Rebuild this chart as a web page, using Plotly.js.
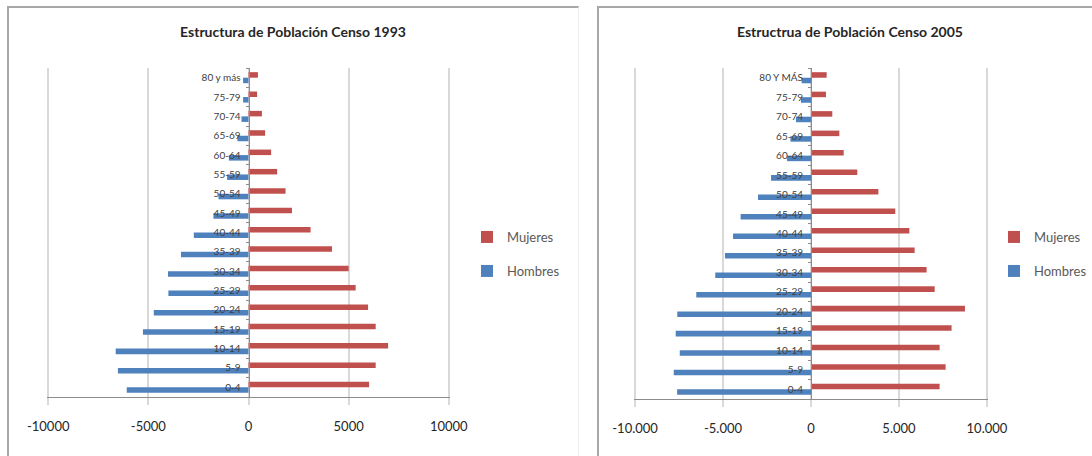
<!DOCTYPE html>
<html>
<head>
<meta charset="utf-8">
<script src="https://cdn.plot.ly/plotly-3.0.1.min.js"></script>
<style>
  html, body { margin: 0; padding: 0; background: #ffffff; width: 1092px; height: 456px; overflow: hidden; }
  .frame { position: absolute; box-sizing: border-box; }
  #frameA { left: 7px; top: 6px; width: 572px; height: 470px; border-left: 2px solid #a8a8a8; border-top: 2px solid #a8a8a8; border-right: 1px solid #efefef; }
  #frameB { left: 597px; top: 6px; width: 520px; height: 470px; border-left: 2px solid #a8a8a8; border-top: 2px solid #a8a8a8; }
  .chart { position: absolute; top: 0; height: 456px; }
  #chartA { left: 0; width: 580px; }
  #chartB { left: 590px; width: 502px; }
</style>
</head>
<body>
<div class="frame" id="frameA"></div>
<div class="frame" id="frameB"></div>
<div class="chart" id="chartA"></div>
<div class="chart" id="chartB"></div>
<script>
// ---------- Data: Censo 1993 (bottom to top) ----------
var categories1993 = ['0-4','5-9','10-14','15-19','20-24','25-29','30-34','35-39','40-44','45-49','50-54','55-59','60-64','65-69','70-74','75-79','80 y más'];
var mujeres1993 = [6020, 6350, 6970, 6350, 5970, 5350, 5000, 4170, 3100, 2170, 1850, 1430, 1130, 830, 670, 430, 470];
var hombres1993 = [-6080, -6520, -6630, -5270, -4730, -4000, -4020, -3370, -2730, -1750, -1500, -1070, -980, -550, -350, -270, -270];

// ---------- Data: Censo 2005 (bottom to top) ----------
var categories2005 = ['0-4','5-9','10-14','15-19','20-24','25-29','30-34','35-39','40-44','45-49','50-54','55-59','60-64','65-69','70-74','75-79','80 Y MÁS'];
var mujeres2005 = [7310, 7650, 7310, 7990, 8750, 7030, 6570, 5890, 5590, 4790, 3830, 2630, 1860, 1610, 1210, 850, 890];
var hombres2005 = [-7610, -7800, -7460, -7690, -7600, -6520, -5440, -4890, -4430, -4000, -3010, -2270, -1360, -1170, -850, -570, -530];

// ---------- Tick labels ----------
var xTickVals = [-10000, -5000, 0, 5000, 10000];
var xTickText1993 = ['-10000', '-5000', '0', '5000', '10000'];
var xTickText2005 = ['-10.000', '-5.000', '0', '5.000', '10.000'];

var title1993 = 'Estructura de Población Censo 1993';
var title2005 = 'Estructrua de Población Censo 2005';
var seriesNames = ['Hombres', 'Mujeres'];

var FONT = 'Lato, "Open Sans", "DejaVu Sans", sans-serif';
var BLUE = '#4f81bd', RED = '#c0504d';

function buildTraces(cats, hom, muj) {
  return [
    { type: 'bar', orientation: 'h', name: seriesNames[0], y: cats, x: hom,
      marker: { color: BLUE }, legend: 'legend2', hoverinfo: 'skip' },
    { type: 'bar', orientation: 'h', name: seriesNames[1], y: cats, x: muj,
      marker: { color: RED }, legend: 'legend', hoverinfo: 'skip' }
  ];
}

function buildLayout(o) {
  return {
    width: o.width, height: 456,
    margin: { l: o.l, r: o.r, t: 68, b: o.b, pad: 0, autoexpand: false },
    paper_bgcolor: 'rgba(0,0,0,0)',
    plot_bgcolor: 'rgba(0,0,0,0)',
    font: { family: FONT, color: '#404040' },
    title: { text: o.title, x: o.titleX, xanchor: 'center', y: 1 - 32 / 456, yanchor: 'middle',
             font: { family: FONT, size: 14, color: '#262626', weight: 'bold' } },
    barmode: 'group', bargap: 0.43, bargroupgap: 0,
    showlegend: true,
    legend: { x: o.legX, xanchor: 'left', y: o.legY1, yanchor: 'middle',
              font: { family: FONT, size: 13, color: '#595959' }, bgcolor: 'rgba(0,0,0,0)' },
    legend2: { x: o.legX, xanchor: 'left', y: o.legY2, yanchor: 'middle',
               font: { family: FONT, size: 13, color: '#595959' }, bgcolor: 'rgba(0,0,0,0)' },
    xaxis: {
      range: [-10060, 10060], fixedrange: true,
      tickmode: 'array', tickvals: xTickVals, ticktext: o.tickText,
      showgrid: true, gridcolor: '#d9d9d9', gridwidth: 2,
      zeroline: false,
      showline: true, linecolor: '#8c8c8c', linewidth: 1,
      ticks: 'outside', ticklen: 7, tickcolor: '#d9d9d9', tickwidth: 2,
      ticklabelstandoff: 10,
      tickfont: { family: FONT, size: 13, color: '#262626' }
    },
    yaxis: {
      type: 'category', range: [-0.5, 16.5], fixedrange: true,
      anchor: 'free', position: 0.5,
      showgrid: false, zeroline: false,
      showline: true, linecolor: '#8c8c8c', linewidth: 1,
      ticks: 'outside', tickson: 'boundaries', ticklen: 3, tickcolor: '#8c8c8c', tickwidth: 1,
      ticklabelstandoff: 6,
      tickfont: { family: FONT, size: 10, color: '#404040' }
    }
  };
}

var cfg = { staticPlot: true, displayModeBar: false };

// plot areas (absolute px): 1993 x 45..452, 2005 x 632..990
Plotly.newPlot('chartA', buildTraces(categories1993, hombres1993, mujeres1993), buildLayout({
  width: 580, l: 47, r: 130, b: 59, title: title1993, titleX: 293 / 580,
  tickText: xTickText1993, legX: (467 - 47) / 403, legY1: (397 - 237) / 329, legY2: (397 - 271) / 329
}), cfg);

Plotly.newPlot('chartB', buildTraces(categories2005, hombres2005, mujeres2005), buildLayout({
  width: 502, l: 44, r: 104, b: 57, title: title2005, titleX: 260 / 502,
  tickText: xTickText2005, legX: (994 - 634) / 354, legY1: (399 - 237) / 331, legY2: (399 - 271) / 331
}), cfg);
</script>
</body>
</html>
